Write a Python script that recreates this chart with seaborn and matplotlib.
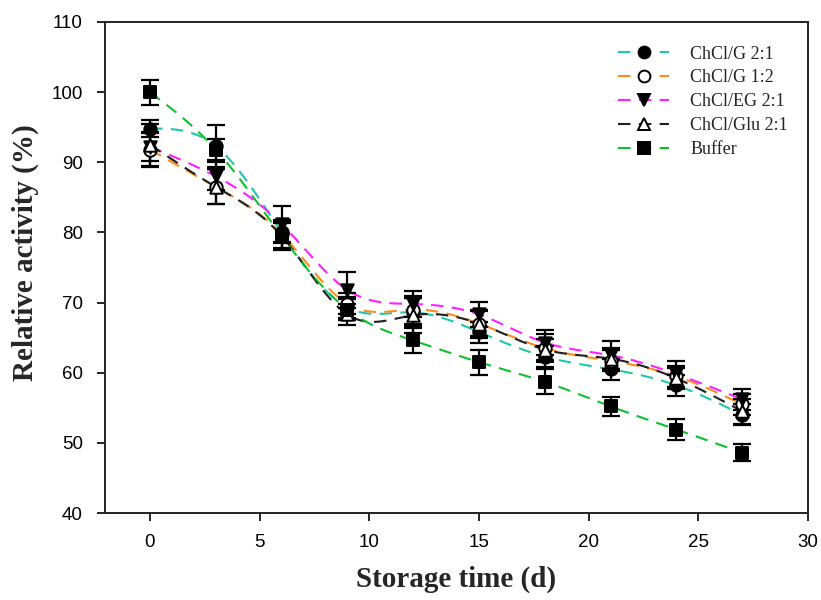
import numpy as np
import pandas as pd
import matplotlib
matplotlib.use("Agg")
import matplotlib.pyplot as plt
import seaborn as sns
from matplotlib.lines import Line2D

days = [0, 3, 6, 9, 12, 15, 18, 21, 24, 27]
series_names = ["ChCl/G 2:1", "ChCl/G 1:2", "ChCl/EG 2:1", "ChCl/Glu 2:1", "Buffer"]
g21 = [94.8, 92.3, 80.0, 69.3, 68.6, 65.8, 62.3, 60.5, 58.2, 54.0]
g12 = [91.8, 86.5, 79.8, 69.8, 69.0, 67.0, 63.5, 61.7, 59.5, 55.5]
eg21 = [92.2, 88.0, 81.2, 71.8, 69.8, 68.3, 64.3, 62.5, 59.8, 56.2]
glu21 = [92.5, 86.5, 79.5, 68.3, 68.2, 67.0, 63.3, 62.0, 59.2, 54.5]
buffer = [100.0, 91.8, 79.5, 69.0, 64.6, 61.5, 58.7, 55.2, 51.9, 48.6]
g21_err = [1.2, 3.0, 1.5, 1.5, 2.0, 1.5, 1.5, 1.5, 1.5, 1.5]
g12_err = [2.5, 2.5, 2.0, 1.5, 2.0, 2.0, 2.0, 1.5, 1.5, 1.5]
eg21_err = [2.0, 2.0, 2.5, 2.6, 1.8, 1.8, 1.8, 2.0, 1.8, 1.5]
glu21_err = [3.0, 2.5, 2.0, 1.5, 2.5, 1.8, 1.5, 1.5, 1.5, 1.8]
buffer_err = [1.8, 1.5, 1.8, 1.5, 1.8, 1.8, 1.8, 1.3, 1.5, 1.2]

values = [g21, g12, eg21, glu21, buffer]
errors = [g21_err, g12_err, eg21_err, glu21_err, buffer_err]
colors = ["#1fc8a8", "#ff8c1a", "#ff20ff", "#202020", "#10c030"]
markers = ["o", "o", "v", "^", "s"]
faces = ["black", "white", "black", "white", "black"]


def natural_spline(x, y, n=300):
    x = np.asarray(x, float)
    y = np.asarray(y, float)
    k = len(x)
    h = np.diff(x)
    A = np.zeros((k, k))
    b = np.zeros(k)
    A[0, 0] = A[-1, -1] = 1
    for i in range(1, k - 1):
        A[i, i - 1] = h[i - 1]
        A[i, i] = 2 * (h[i - 1] + h[i])
        A[i, i + 1] = h[i]
        b[i] = 3 * ((y[i + 1] - y[i]) / h[i] - (y[i] - y[i - 1]) / h[i - 1])
    c = np.linalg.solve(A, b)
    xs = np.linspace(x[0], x[-1], n)
    ys = np.empty_like(xs)
    for j, xv in enumerate(xs):
        i = min(np.searchsorted(x, xv, side="right") - 1, k - 2)
        dx = xv - x[i]
        bi = (y[i + 1] - y[i]) / h[i] - h[i] * (2 * c[i] + c[i + 1]) / 3
        di = (c[i + 1] - c[i]) / (3 * h[i])
        ys[j] = y[i] + bi * dx + c[i] * dx ** 2 + di * dx ** 3
    return xs, ys


sns.set_theme(style="ticks")
plt.rcParams["font.family"] = ["Liberation Sans", "DejaVu Sans"]

fig = plt.figure(figsize=(8.21, 6.0), dpi=100)
ax = fig.add_axes([105 / 821, 1 - 513 / 600, (808 - 105) / 821, (513 - 22) / 600])

dash = (0, (6, 4))
for name, v, e, col, mk, fc in zip(series_names, values, errors, colors, markers, faces):
    xs, ys = natural_spline(days, v)
    sns.lineplot(x=xs, y=ys, ax=ax, color=col, linewidth=1.5, linestyle=dash,
                 zorder=2, legend=False)
    ax.errorbar(days, v, yerr=e, fmt="none", ecolor="black", elinewidth=1.6,
                capsize=6.5, capthick=1.6, zorder=3)
    sns.scatterplot(x=days, y=v, ax=ax, marker=mk, s=80, color=fc, edgecolor="black",
                    linewidth=1.4, zorder=4, legend=False)

ax.set_xlim(-2.05, 30)
ax.set_ylim(40, 110)
ax.set_xticks([0, 5, 10, 15, 20, 25, 30])
ax.set_yticks([40, 50, 60, 70, 80, 90, 100, 110])
ax.tick_params(axis="both", direction="out", length=6, width=1.2, labelsize=13.5,
               colors="black")
ax.tick_params(axis="x", pad=9)
ax.tick_params(axis="y", pad=10)
for sp in ax.spines.values():
    sp.set_visible(True)
    sp.set_linewidth(1.4)
    sp.set_color("#222222")

ax.set_xlabel("Storage time (d)", fontsize=21, fontweight="bold",
              family="Liberation Serif", labelpad=11)
ax.set_ylabel("Relative activity (%)", fontsize=21, fontweight="bold",
              family="Liberation Serif", labelpad=5)
ax.yaxis.set_label_coords(-0.094, 0.53)

handles = []
for name, col, mk, fc in zip(series_names, colors, markers, faces):
    handles.append(Line2D([0], [0], color=col, linestyle=dash, linewidth=1.5,
                          marker=mk, markersize=8.5, markerfacecolor=fc,
                          markeredgecolor="black", markeredgewidth=1.4))
leg = ax.legend(handles, series_names, loc="upper right", bbox_to_anchor=(0.995, 0.985),
                frameon=False, prop={"family": "Liberation Serif", "size": 13},
                handlelength=2.8, labelspacing=0.38, handletextpad=1.2)

fig.savefig("out.png", dpi=100)
